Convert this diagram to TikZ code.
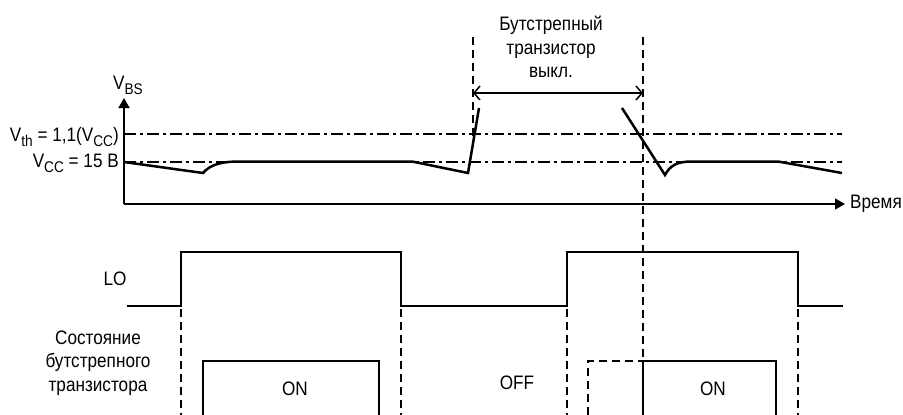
\documentclass[tikz,border=0pt]{standalone}
\usepackage{fontspec}
\setmainfont{Liberation Sans}[FakeStretch=0.88]
\usetikzlibrary{arrows.meta}
\newcommand{\lowsub}[1]{\raisebox{-5pt}{\fontsize{15.5}{15.5}\selectfont #1}}
\tikzset{
    every node/.style={font=\fontsize{19.5}{23.5}\selectfont, inner sep=0pt},
    bigtext/.style={font=\fontsize{19.5}{24}\selectfont},
    signal/.style={line width=2.5pt, line join=miter},
    axisline/.style={line width=1.6pt, -{Triangle[width=11pt,length=10pt]}},
    levelline/.style={line width=1.2pt, dash pattern=on 12pt off 4pt on 3pt off 4pt},
    markline/.style={line width=1.5pt, dash pattern=on 8pt off 5pt},
    statebox/.style={line width=2.5pt},
}

\begin{document}
\begin{tikzpicture}[x=1pt, y=-1pt]
        \useasboundingbox (0,0) rectangle (903,415);
        \coordinate (origin) at (124, 204);
        \coordinate (ytop) at (124, 98);
        \coordinate (xend) at (845, 204);
        \coordinate (offl) at (473, 93);
        \coordinate (offr) at (643, 93);
        \draw[axisline] (origin) -- (ytop);
        \draw[axisline] (origin) -- (xend);
        \node[anchor=base] (vbs) at (128, 89) {V\lowsub{BS}};
        \node[anchor=west] (time) at (850, 204) {Время};
        \draw[levelline] (124, 134) -- (842, 134);
        \draw[levelline] (124, 162) -- (842, 162);
        \node[anchor=base east] (vth) at (119, 141)
            {V\lowsub{th} = 1,1(V\lowsub{CC})};
        \node[anchor=base east] (vcc) at (119, 167) {V\lowsub{CC} = 15 В};
        \draw[signal] (124, 162) -- (203, 173) .. controls (210, 165) and
            (220, 161.5) .. (240, 161.5) -- (412, 161.5) -- (468, 173) -- (479, 108);
        \draw[signal] (622, 108) -- (665, 175) .. controls (670, 166) and
            (676, 161.5) .. (692, 161.5) -- (778, 161.5) -- (842, 173);
        \draw[markline] (473, 37) -- (473, 140);
        \draw[markline] (643, 37) -- (643, 415);
        \draw[line width=1.5pt, {Straight Barb[length=6pt,width=14pt]}-{Straight Barb[length=6pt,width=14pt]}]
            (offl) -- (offr);
        \node[align=center] (offtext) at (551, 47)
            {Бутстрепный\\транзистор\\выкл.};
        \draw[signal] (127, 306) -- (181, 306) -- (181, 252) -- (401, 252) --
            (401, 306) -- (567, 306) -- (567, 252) -- (798, 252) -- (798, 306)
            -- (843, 306);
        \node[bigtext] (lo) at (115, 279) {LO};
        \foreach \xm in {181, 401, 567, 798}
            \draw[markline] (\xm, 309) -- (\xm, 415);
        \node[align=center] (state) at (98, 363)
            {Состояние\\бутстрепного\\транзистора};
        \draw[statebox] (203, 415) -- (203, 361) -- (379, 361) -- (379, 415);
        \draw[statebox] (643, 415) -- (643, 361) -- (776, 361) -- (776, 415);
        \draw[markline] (588, 415) -- (588, 361) -- (643, 361);
        \node[bigtext] (on1) at (295, 389) {ON};
        \node[bigtext] (off) at (517, 383) {OFF};
        \node[bigtext] (on2) at (713, 389) {ON};
    \end{tikzpicture}
\end{document}
